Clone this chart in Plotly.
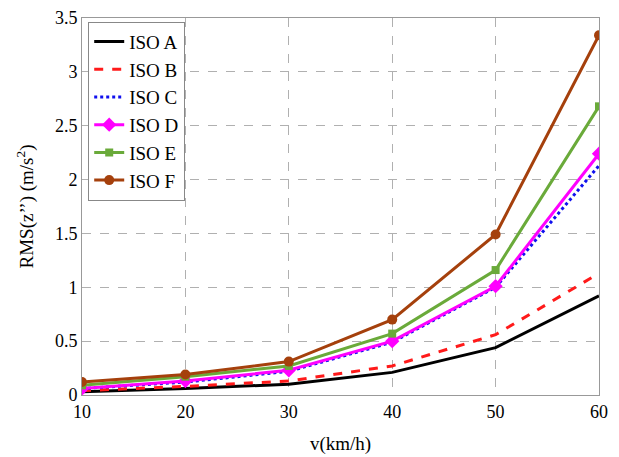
import plotly.graph_objects as go

speeds = [10, 20, 30, 40, 50, 60]
iso_a = [0.03, 0.06, 0.10, 0.21, 0.44, 0.92]
iso_b = [0.04, 0.08, 0.13, 0.27, 0.56, 1.13]
iso_c = [0.06, 0.12, 0.22, 0.49, 1.00, 2.13]
iso_d = [0.06, 0.13, 0.23, 0.50, 1.01, 2.24]
iso_e = [0.09, 0.17, 0.27, 0.57, 1.16, 2.68]
iso_f = [0.12, 0.19, 0.31, 0.70, 1.49, 3.34]

x_ticks = [10, 20, 30, 40, 50, 60]
y_ticks = [0, 0.5, 1, 1.5, 2, 2.5, 3, 3.5]
y_tick_labels = ["0", "0.5", "1", "1.5", "2", "2.5", "3", "3.5"]

series = [
    ("ISO A", iso_a, dict(color="black", width=3, dash="solid"), None),
    ("ISO B", iso_b, dict(color="#ff1a1a", width=3, dash="dash"), None),
    ("ISO C", iso_c, dict(color="#1010ee", width=3, dash="dot"), None),
    ("ISO D", iso_d, dict(color="#ff00ff", width=3, dash="solid"), dict(symbol="diamond", size=11, color="#ff00ff")),
    ("ISO E", iso_e, dict(color="#6aaa3a", width=3, dash="solid"), dict(symbol="square", size=8, color="#6aaa3a")),
    ("ISO F", iso_f, dict(color="#a5400c", width=3, dash="solid"), dict(symbol="circle", size=10, color="#a5400c")),
]

fig = go.Figure()
for i, (name, vals, line, marker) in enumerate(series):
    fig.add_trace(go.Scatter(
        x=speeds, y=vals, name=name,
        mode="lines+markers" if marker else "lines",
        line=line, marker=marker, legendgroup=f"g{i}",
    ))

fam = "Liberation Serif"
tick_font = dict(family=fam, size=18, color="black")
title_font = dict(family=fam, size=19, color="black")
legend_font = dict(family=fam, size=19, color="black")

# page body has an 8px default margin; size/margins compensate for it
fig.update_layout(
    width=611, height=449,
    margin=dict(l=74, r=20, t=10, b=62, autoexpand=False),
    paper_bgcolor="white", plot_bgcolor="white",
    font=tick_font,
    showlegend=True,
    legend=dict(
        x=0.012, y=0.99, xanchor="left", yanchor="top",
        bgcolor="white", bordercolor="#888888", borderwidth=1,
        font=legend_font, tracegroupgap=0, itemwidth=30,
    ),
    xaxis=dict(
        range=[10, 60], tickvals=x_ticks, ticks="", showline=True, mirror=True,
        linecolor="#999999", linewidth=1, showgrid=True, gridcolor="#b0b0b0",
        griddash="dash", gridwidth=1, zeroline=False, automargin=False,
        title=dict(text="v(km/h)", font=title_font, standoff=16),
        tickfont=tick_font,
    ),
    yaxis=dict(
        range=[0, 3.5], tickvals=y_ticks, ticktext=y_tick_labels, ticks="",
        showline=True, mirror=True, linecolor="#999999", linewidth=1,
        showgrid=True, gridcolor="#b0b0b0", griddash="dash", gridwidth=1,
        zeroline=False, automargin=False,
        title=dict(text="RMS(z’’) (m/s<sup>2</sup>)", font=title_font, standoff=16),
        tickfont=tick_font,
    ),
)

fig.write_html("out.html")
